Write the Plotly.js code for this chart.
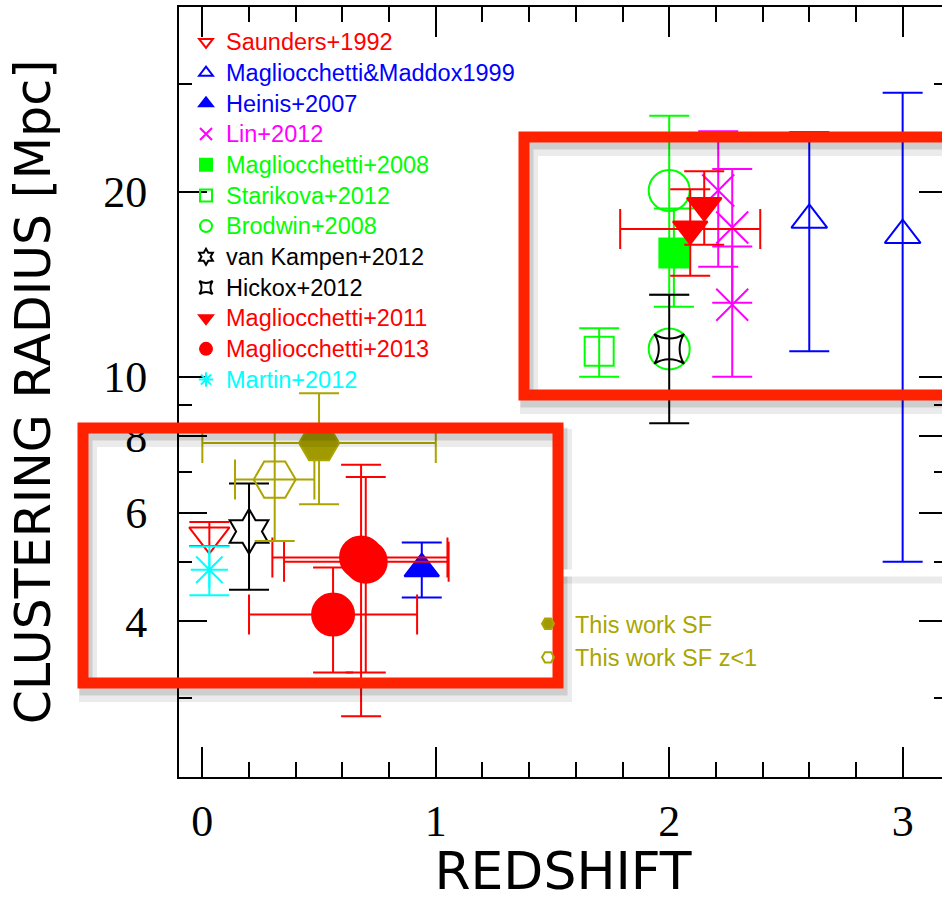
<!DOCTYPE html>
<html><head><meta charset="utf-8">
<script src="https://cdn.plot.ly/plotly-3.0.1.min.js"></script>
<style>html,body{margin:0;padding:0;overflow:hidden;background:#fff}#chart{width:960px;height:901px}</style>
</head><body><div id="chart"></div><script>
// ---------------- data (redshift z, clustering radius r0 [Mpc]) ----------------
const saundersZ=[0.03], saundersR=[5.5], saundersUp=[0.3], saundersDn=[0.2];
const mmZ=[2.6,3.0], mmR=[18.0,17.0], mmErr=[7.0,12.0];
const heinisZ=[0.94], heinisR=[4.87], heinisErr=[0.5];
const linZ=[2.21,2.27,2.27], linR=[20.1,17.5,13.1], linUp=[5.0,4.3,3.2], linDn=[5.0,4.3,3.1];
const m08Z=[2.02], m08R=[15.9], m08Err=[2.9];
const starZ=[1.70], starR=[11.0], starErr=[1.0];
const brodZ=[2.0,2.0], brodR=[20.1,11.1], brodErr=[6.5,NaN];
const vkZ=[0.2], vkR=[5.6], vkErr=[1.1];
const hickZ=[2.0], hickR=[11.1], hickUp=[2.5], hickDn=[2.7];
const m11Z=[2.15,2.09], m11R=[19.0,17.4], m11Err=[2.6,2.8], m11ZErr=[NaN,0.3];
const m13Z=[0.68,0.70,0.56], m13R=[5.08,5.0,4.1], m13Up=[2.11,1.87,0.79], m13Dn=[2.28,1.70,0.80], m13ZLo=[0.38,0.35,0.36], m13ZHi=[0.37,0.355,0.36];
const martinZ=[0.03], martinR=[4.85], martinErr=[0.44];
const sfZ=[0.5], sfR=[7.8], sfErr=[1.6], sfZErr=[0.5];
const sf1Z=[0.31], sf1R=[6.8], sf1Err=[1.4], sf1ZErr=[0.17];

const xTickVals=[0,1,2,3], xTickText=['0','1','2','3'];
const yTickVals=[4,6,8,10,20], yTickText=['4','6','8','10','20'];
const yMinorVals=[3,5,7,9,30];

// ---------------- styling helpers ----------------
const OLIVE='#aaa500';
function nm(t,c,sz){return '<span style="color:'+c+';font-size:'+sz+'px">'+t+'</span>';}
function ey(up,dn,c){const e={type:'data',array:up,color:c,thickness:2,width:20,visible:true};if(dn){e.symmetric=false;e.arrayminus=dn;}return e;}
function ex(hi,lo,c){const e={type:'data',array:hi,color:c,thickness:2,width:20,visible:true};if(lo){e.symmetric=false;e.arrayminus=lo;}return e;}
function tr(name,color,x,y,sym,size,opts){
  const o=Object.assign({type:'scatter',mode:'markers',name:nm(name,color,23.5),x:x,y:y,
    marker:{symbol:sym,size:size,color:color,line:{color:color,width:2}},legend:'legend'},opts||{});
  return o;
}
const traces=[
  tr('Saunders+1992','#ff0000',saundersZ,saundersR,'triangle-down-open',35,{error_y:ey(saundersUp,saundersDn,'#ff0000')}),
  tr('Magliocchetti&amp;Maddox1999','#0000ff',mmZ,mmR,'triangle-up-open',31,{error_y:ey(mmErr,null,'#0000ff')}),
  tr('Heinis+2007','#0000ff',heinisZ,heinisR,'triangle-up',30,{error_y:ey(heinisErr,null,'#0000ff')}),
  tr('Lin+2012','#ff00ff',linZ,linR,'x-thin-open',32,{error_y:ey(linUp,linDn,'#ff00ff')}),
  tr('Magliocchetti+2008','#00ff00',m08Z,m08R,'square',29,{error_y:ey(m08Err,null,'#00ff00')}),
  tr('Starikova+2012','#00ff00',starZ,starR,'square-open',29,{error_y:ey(starErr,null,'#00ff00')}),
  tr('Brodwin+2008','#00ff00',brodZ,brodR,'circle-open',41,{error_y:ey(brodErr,null,'#00ff00')}),
  tr('van Kampen+2012','#000000',vkZ,vkR,'hexagram-open',34,{error_y:ey(vkErr,null,'#000000')}),
  tr('Hickox+2012','#000000',hickZ,hickR,'star-square-open',27,{error_y:ey(hickUp,hickDn,'#000000')}),
  tr('Magliocchetti+2011','#ff0000',m11Z,m11R,'triangle-down',30,{error_y:ey(m11Err,null,'#ff0000'),error_x:ex(m11ZErr,null,'#ff0000')}),
  tr('Magliocchetti+2013','#ff0000',m13Z,m13R,'circle',42,{error_y:ey(m13Up,m13Dn,'#ff0000'),error_x:ex(m13ZHi,m13ZLo,'#ff0000')}),
  tr('Martin+2012','#00ffff',martinZ,martinR,'asterisk-open',31,{error_y:ey(martinErr,null,'#00ffff')}),
  tr('This work SF',OLIVE,sfZ,sfR,'hexagon2',40,{legend:'legend2',error_y:ey(sfErr,null,OLIVE),error_x:ex(sfZErr,null,OLIVE)}),
  tr('This work SF z&lt;1',OLIVE,sf1Z,sf1R,'hexagon2-open',42,{legend:'legend2',error_y:ey(sf1Err,null,OLIVE),error_x:ex(sf1ZErr,null,OLIVE)})
];
traces[12].marker.color='#a09a00';

// ---------------- layout ----------------
const W=960,H=901,L=179,R=13,T=7,B=124;
const pw=W-L-R, ph=H-T-B;
const px=v=>(v-L)/pw, py=v=>(H-B-v)/ph;
const RED='#ff2200';
function box(x0,y0,x1,y1,color,w,dx,dy){
  return {type:'rect',xref:'paper',yref:'paper',x0:px(x0+dx),x1:px(x1+dx),y0:py(y1+dy),y1:py(y0+dy),
    line:{color:color,width:w},fillcolor:'rgba(0,0,0,0)',layer:'above'};
}
function hline(x0,x1,y,color,w){
  return {type:'line',xref:'paper',yref:'paper',x0:px(x0),x1:px(x1),y0:py(y),y1:py(y),line:{color:color,width:w},layer:'above'};
}
const shapes=[
  box(83,428,558,683,'rgba(0,0,0,0.08)',18,5,10),
  box(83,428,558,683,'rgba(0,0,0,0.12)',13,3,6),
  box(524,137,1100,395,'rgba(0,0,0,0.08)',18,5,10),
  box(524,137,1100,395,'rgba(0,0,0,0.12)',13,3,6),
  hline(557,1100,579,'rgba(0,0,0,0.08)',9),
  hline(557,1100,573,'#ffffff',7),
  box(83,428,558,683,RED,11,0,0),
  box(524,137,1100,395,RED,11,0,0)
];

const layout={
  width:W,height:H,margin:{l:L,r:R,t:T,b:B},
  paper_bgcolor:'#fff',plot_bgcolor:'#fff',showlegend:true,hovermode:false,
  xaxis:{range:[-0.1,3.19],showgrid:false,zeroline:false,showline:true,linecolor:'#000',linewidth:2,mirror:'ticks',
    ticks:'inside',ticklen:30,tickwidth:2,tickcolor:'#000',tickmode:'array',tickvals:xTickVals,ticktext:xTickText,
    tickfont:{family:'Liberation Serif',size:44,color:'#000'},ticklabelstandoff:4,
    minor:{ticks:'inside',dtick:0.2,tick0:0,ticklen:15,tickwidth:2,tickcolor:'#000',showgrid:false},
    title:{text:'REDSHIFT',font:{family:'DejaVu Sans',size:52,color:'#000'},standoff:38}},
  yaxis:{type:'log',range:[Math.log10(2.23),Math.log10(40)],showgrid:false,zeroline:false,showline:true,linecolor:'#000',linewidth:2,mirror:'ticks',
    ticks:'inside',ticklen:28,tickwidth:2,tickcolor:'#000',tickmode:'array',tickvals:yTickVals,ticktext:yTickText,
    tickfont:{family:'Liberation Serif',size:44,color:'#000'},ticklabelstandoff:21,
    minor:{ticks:'inside',tickmode:'array',tickvals:yMinorVals,ticklen:13,tickwidth:2,tickcolor:'#000',showgrid:false},
    title:{text:'CLUSTERING RADIUS [Mpc]',font:{family:'DejaVu Sans',size:49,color:'#000'},standoff:37}},
  legend:{x:px(186),y:py(21.6),xanchor:'left',yanchor:'top',bgcolor:'rgba(0,0,0,0)',borderwidth:0,
    font:{family:'Liberation Sans',size:21.3,color:'#000'},itemsizing:'constant',traceorder:'normal',itemwidth:30},
  legend2:{x:px(521),y:py(602),xanchor:'left',yanchor:'top',bgcolor:'rgba(0,0,0,0)',borderwidth:0,
    font:{family:'Liberation Sans',size:23.5,color:OLIVE},itemsizing:'constant',traceorder:'normal',itemwidth:44},
  shapes:shapes
};
Plotly.newPlot('chart',traces,layout,{staticPlot:true,displayModeBar:false});
</script></body></html>
